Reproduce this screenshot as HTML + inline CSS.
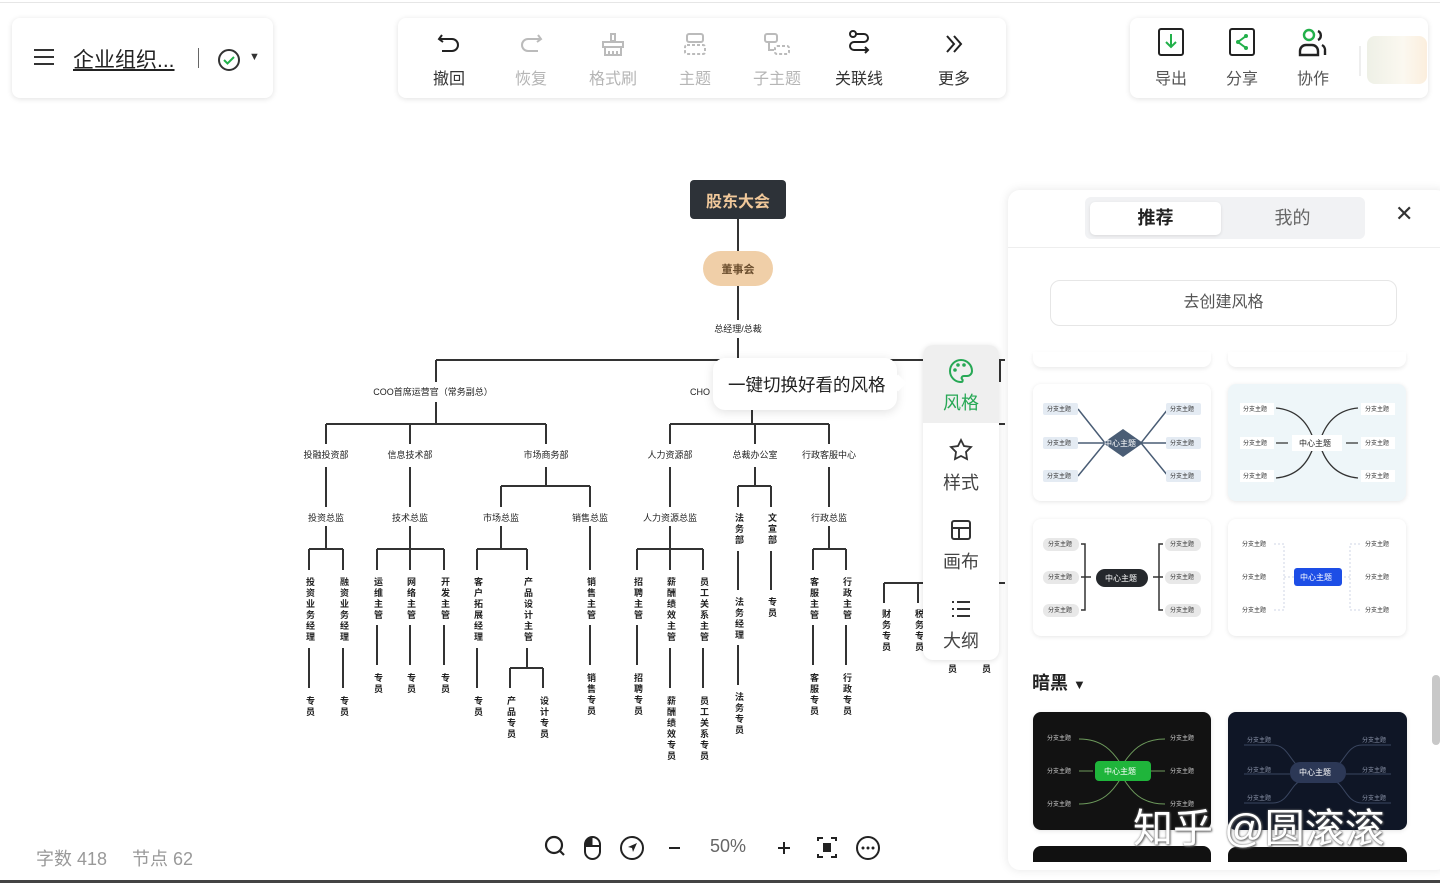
<!DOCTYPE html>
<html><head><meta charset="utf-8"><style>
*{margin:0;padding:0;box-sizing:border-box}
body{width:1440px;height:883px;position:relative;overflow:hidden;background:#fff;font-family:"Liberation Sans","Noto Sans CJK SC",sans-serif;color:#333}
.abs{position:absolute}
.card{position:absolute;background:#fff;border-radius:8px;box-shadow:0 1px 6px rgba(0,0,0,.12)}
.h{position:absolute;font-size:9px;transform:translateX(-50%);white-space:nowrap;color:#222;line-height:12px}
.v{position:absolute;font-size:9px;writing-mode:vertical-rl;width:11px;margin-left:-5px;letter-spacing:2px;color:#222;line-height:11px;font-weight:bold}
.tb{position:absolute;text-align:center;font-size:16px;width:70px;transform:translateX(-50%)}
.tb .ic{height:34px;display:flex;align-items:flex-end;justify-content:center}
.tb .lb{margin-top:8px}
.gray{color:#b5b5b5}
.side{position:absolute;left:923px;width:76px;text-align:center;font-size:18px;color:#444}
.thumb{position:absolute;border-radius:8px;box-shadow:0 1px 5px rgba(0,0,0,.1);overflow:hidden}
</style></head><body>
<div class="abs" style="left:0;top:2px;width:1440px;height:1px;background:#e6e6e6"></div>

<!-- left card -->
<div class="card" style="left:12px;top:18px;width:261px;height:80px">
  <div class="abs" style="left:22px;top:31px;width:20px;height:2px;background:#333;box-shadow:0 7px 0 #333,0 14px 0 #333"></div>
  <div class="abs" style="left:61px;top:26px;font-size:21px;color:#222;text-decoration:underline">企业组织...</div>
  <div class="abs" style="left:186px;top:30px;width:1px;height:20px;background:#666"></div>
  <svg class="abs" style="left:205px;top:30px" width="24" height="24"><circle cx="12" cy="12" r="10" fill="none" stroke="#333" stroke-width="2"/><path d="M7 12l3.5 3.5L17 9" fill="none" stroke="#22b04a" stroke-width="2"/></svg>
  <div class="abs" style="left:237px;top:33px;font-size:11px">▼</div>
</div>

<!-- toolbar -->
<div class="card" style="left:398px;top:18px;width:608px;height:80px"></div>
<div class="tb" style="left:449px;top:23px"><div class="ic"><svg width="26" height="26"><path d="M6 4L3 8l4 3M3 8h13a6 6 0 010 12H6" fill="none" stroke="#222" stroke-width="2"/></svg></div><div class="lb">撤回</div></div>
<div class="tb gray" style="left:531px;top:23px"><div class="ic"><svg width="26" height="26"><path d="M20 4l3 4-4 3M23 8H10a6 6 0 000 12h10" fill="none" stroke="#bbb" stroke-width="2"/></svg></div><div class="lb">恢复</div></div>
<div class="tb gray" style="left:613px;top:23px"><div class="ic"><svg width="26" height="26"><path d="M11 3h4v7h-4zM3 11h20v5H3zM5 16v8h16v-8M9 20v4M13 20v4M17 20v4" fill="none" stroke="#bbb" stroke-width="2"/></svg></div><div class="lb">格式刷</div></div>
<div class="tb gray" style="left:695px;top:23px"><div class="ic"><svg width="26" height="26"><rect x="5" y="3" width="16" height="8" rx="2" fill="none" stroke="#bbb" stroke-width="2"/><rect x="3" y="14" width="20" height="9" rx="2" fill="none" stroke="#bbb" stroke-width="2" stroke-dasharray="3 2"/></svg></div><div class="lb">主题</div></div>
<div class="tb gray" style="left:777px;top:23px"><div class="ic"><svg width="30" height="26"><rect x="3" y="3" width="12" height="8" rx="2" fill="none" stroke="#bbb" stroke-width="2"/><path d="M7 11v8h5" fill="none" stroke="#bbb" stroke-width="2"/><rect x="13" y="15" width="14" height="8" rx="2" fill="none" stroke="#bbb" stroke-width="2" stroke-dasharray="3 2"/></svg></div><div class="lb">子主题</div></div>
<div class="tb" style="left:859px;top:23px"><div class="ic"><svg width="26" height="28"><circle cx="7" cy="5" r="3" fill="none" stroke="#222" stroke-width="2"/><path d="M10 5h8a4 4 0 010 8H8a4 4 0 000 8h14M19 18l3 3-3 3" fill="none" stroke="#222" stroke-width="2"/></svg></div><div class="lb">关联线</div></div>
<div class="tb" style="left:954px;top:23px"><div class="ic"><svg width="26" height="26"><path d="M6 5l7 8-7 8M13 5l7 8-7 8" fill="none" stroke="#222" stroke-width="2"/></svg></div><div class="lb">更多</div></div>

<!-- right card -->
<div class="card" style="left:1130px;top:18px;width:298px;height:80px"></div>
<div class="tb" style="left:1171px;top:23px"><div class="ic"><svg width="28" height="30"><rect x="2" y="2" width="24" height="26" rx="2" fill="none" stroke="#222" stroke-width="2"/><path d="M14 7v13M9 15l5 5 5-5" fill="none" stroke="#22b04a" stroke-width="2"/></svg></div><div class="lb" style="color:#555">导出</div></div>
<div class="tb" style="left:1242px;top:23px"><div class="ic"><svg width="28" height="30"><rect x="2" y="2" width="24" height="26" rx="2" fill="none" stroke="#222" stroke-width="2"/><path d="M18 9l-8 6 8 6" fill="none" stroke="#22b04a" stroke-width="2"/><circle cx="18" cy="9" r="2" fill="#22b04a"/><circle cx="18" cy="21" r="2" fill="#22b04a"/><circle cx="10" cy="15" r="2" fill="#22b04a"/></svg></div><div class="lb" style="color:#555">分享</div></div>
<div class="tb" style="left:1313px;top:23px"><div class="ic"><svg width="32" height="30"><circle cx="12" cy="8" r="5" fill="none" stroke="#22b04a" stroke-width="2.4"/><path d="M3 28v-4a6 6 0 016-6h6a6 6 0 016 6v4z" fill="none" stroke="#222" stroke-width="2.4"/><path d="M21 4a5 5 0 010 9M25 18a6 6 0 013 6v4" fill="none" stroke="#222" stroke-width="2.4"/></svg></div><div class="lb" style="color:#555">协作</div></div>
<div class="abs" style="left:1359px;top:46px;width:2px;height:30px;background:#eee"></div>
<div class="abs" style="left:1367px;top:36px;width:60px;height:48px;border-radius:8px;background:linear-gradient(90deg,#eef0e6,#fbf8f0 60%,#fbeedd)"></div>

<!-- chart lines -->
<svg class="abs" style="left:0;top:0" width="1440" height="883">
<path fill="none" stroke="#333" stroke-width="2" d="M738 219V251 M738 286V320 M738 338V360 M436 360H1005 M436 360V382 M752 360V382
M436 402V424 M326 424H546 M326 424V444 M410 424V444 M546 424V444
M326 467V507 M326 526V549 M309 549H343 M309 549V570 M343 549V570 M309 648V688 M343 648V688
M410 467V507 M410 526V549 M377 549H444 M377 549V570 M410 549V570 M444 549V570 M377 625V665 M410 625V665 M444 625V665
M546 467V486 M501 486H590 M501 486V507 M590 486V507 M501 526V549 M477 549H527 M477 549V570 M527 549V570 M477 648V688 M527 648V668 M510 668H543 M510 668V688 M543 668V688 M590 526V570 M590 625V665
M752 402V424 M670 424H829 M670 424V444 M755 424V444 M829 424V444
M670 467V507 M670 526V549 M637 549H703 M637 549V570 M670 549V570 M703 549V570 M637 625V665 M670 648V688 M703 648V688
M755 467V486 M738 486H771 M738 486V507 M771 486V507 M738 551V590 M771 551V590 M738 645V685
M829 467V507 M829 526V549 M813 549H846 M813 549V570 M846 549V570 M813 625V665 M846 625V665
M1000 360V382 M884 583H1005 M884 583V603 M918 583V603 M990 424H1005"/>
<rect x="690" y="180" width="96" height="39" rx="4" fill="#2d3238"/>
<rect x="703" y="251" width="70" height="35" rx="17.5" fill="#f0cfa8"/>
</svg>
<div class="abs" style="left:690px;top:188px;width:96px;text-align:center;color:#f0c89a;font-weight:bold;font-size:16px">股东大会</div>
<div class="abs" style="left:703px;top:261px;width:70px;text-align:center;color:#6b4e2e;font-size:11px;font-weight:bold">董事会</div>
<div class="h" style="left:738px;top:323px">总经理/总裁</div>
<div class="h" style="left:433px;top:386px">COO首席运营官（常务副总）</div>
<div class="h" style="left:700px;top:386px">CHO</div>

<div class="h" style="left:326px;top:449px">投融投资部</div>
<div class="h" style="left:410px;top:449px">信息技术部</div>
<div class="h" style="left:546px;top:449px">市场商务部</div>
<div class="h" style="left:670px;top:449px">人力资源部</div>
<div class="h" style="left:755px;top:449px">总裁办公室</div>
<div class="h" style="left:829px;top:449px">行政客服中心</div>
<div class="h" style="left:326px;top:512px">投资总监</div>
<div class="h" style="left:410px;top:512px">技术总监</div>
<div class="h" style="left:501px;top:512px">市场总监</div>
<div class="h" style="left:590px;top:512px">销售总监</div>
<div class="h" style="left:670px;top:512px">人力资源总监</div>
<div class="h" style="left:829px;top:512px">行政总监</div>

<div class="v" style="left:309px;top:577px">投资业务经理</div>
<div class="v" style="left:343px;top:577px">融资业务经理</div>
<div class="v" style="left:309px;top:696px">专员</div>
<div class="v" style="left:343px;top:696px">专员</div>
<div class="v" style="left:377px;top:577px">运维主管</div>
<div class="v" style="left:410px;top:577px">网络主管</div>
<div class="v" style="left:444px;top:577px">开发主管</div>
<div class="v" style="left:377px;top:673px">专员</div>
<div class="v" style="left:410px;top:673px">专员</div>
<div class="v" style="left:444px;top:673px">专员</div>
<div class="v" style="left:477px;top:577px">客户拓展经理</div>
<div class="v" style="left:477px;top:696px">专员</div>
<div class="v" style="left:527px;top:577px">产品设计主管</div>
<div class="v" style="left:510px;top:696px">产品专员</div>
<div class="v" style="left:543px;top:696px">设计专员</div>
<div class="v" style="left:590px;top:577px">销售主管</div>
<div class="v" style="left:590px;top:673px">销售专员</div>
<div class="v" style="left:637px;top:577px">招聘主管</div>
<div class="v" style="left:637px;top:673px">招聘专员</div>
<div class="v" style="left:670px;top:577px">薪酬绩效主管</div>
<div class="v" style="left:670px;top:696px">薪酬绩效专员</div>
<div class="v" style="left:703px;top:577px">员工关系主管</div>
<div class="v" style="left:703px;top:696px">员工关系专员</div>
<div class="v" style="left:738px;top:513px">法务部</div>
<div class="v" style="left:771px;top:513px">文宣部</div>
<div class="v" style="left:738px;top:597px">法务经理</div>
<div class="v" style="left:738px;top:692px">法务专员</div>
<div class="v" style="left:771px;top:597px">专员</div>
<div class="v" style="left:813px;top:577px">客服主管</div>
<div class="v" style="left:846px;top:577px">行政主管</div>
<div class="v" style="left:813px;top:673px">客服专员</div>
<div class="v" style="left:846px;top:673px">行政专员</div>
<div class="v" style="left:885px;top:609px">财务专员</div>
<div class="v" style="left:918px;top:609px">税务专员</div>
<div class="v" style="left:951px;top:664px">员</div>
<div class="v" style="left:985px;top:664px">员</div>

<!-- tooltip -->
<div class="card" style="left:713px;top:358px;width:184px;height:52px;border-radius:12px;box-shadow:0 2px 10px rgba(0,0,0,.12)"></div>
<div class="abs" style="left:892px;top:377px;width:12px;height:12px;background:#fff;transform:rotate(45deg)"></div>
<div class="abs" style="left:728px;top:372px;font-size:17.5px;color:#222;white-space:nowrap">一键切换好看的风格</div>

<!-- side toolbar -->
<div class="card" style="left:923px;top:345px;width:76px;height:315px;border-radius:10px;overflow:hidden"><div style="height:78px;background:#efefef"></div></div>
<svg class="abs" style="left:948px;top:358px" width="26" height="26"><path d="M13 2a11 11 0 100 22c2 0 2-2 1-3s0-3 2-3h3a5 5 0 005-5c0-6-5-11-11-11z" fill="none" stroke="#27a855" stroke-width="2"/><circle cx="7" cy="12" r="1.8" fill="#27a855"/><circle cx="10" cy="7" r="1.8" fill="#27a855"/><circle cx="16" cy="7" r="1.8" fill="#27a855"/></svg>
<div class="side" style="top:389px;color:#27a855">风格</div>
<svg class="abs" style="left:949px;top:438px" width="24" height="24"><path d="M12 2l3 6 7 1-5 5 1 7-6-3-6 3 1-7-5-5 7-1z" fill="none" stroke="#333" stroke-width="1.8"/></svg>
<div class="side" style="top:469px">样式</div>
<svg class="abs" style="left:950px;top:519px" width="22" height="22"><rect x="2" y="2" width="18" height="18" rx="2" fill="none" stroke="#333" stroke-width="2"/><path d="M2 9h18M9 9v11" stroke="#333" stroke-width="2"/></svg>
<div class="side" style="top:548px">画布</div>
<svg class="abs" style="left:950px;top:599px" width="22" height="20"><path d="M2 3h2M7 3h13M2 10h2M7 10h13M2 17h2M7 17h13" stroke="#333" stroke-width="2"/></svg>
<div class="side" style="top:627px">大纲</div>

<!-- right panel -->
<div class="card" style="left:1008px;top:190px;width:440px;height:680px;border-radius:12px;box-shadow:0 0 10px rgba(0,0,0,.1)"></div>
<div class="abs" style="left:1085px;top:197px;width:280px;height:42px;border-radius:6px;background:#f1f2f4"></div>
<div class="abs" style="left:1090px;top:202px;width:131px;height:33px;border-radius:5px;background:#fff;box-shadow:0 1px 3px rgba(0,0,0,.1);text-align:center;font-size:18px;font-weight:bold;line-height:33px;color:#222">推荐</div>
<div class="abs" style="left:1225px;top:202px;width:135px;text-align:center;font-size:18px;line-height:33px;color:#666">我的</div>
<div class="abs" style="left:1395px;top:201px;font-size:22px;color:#333">✕</div>
<div class="abs" style="left:1008px;top:247px;width:432px;height:1px;background:#eee"></div>
<div class="abs" style="left:1050px;top:280px;width:347px;height:46px;border:1px solid #e6e6e6;border-radius:10px;text-align:center;line-height:44px;font-size:16px;color:#555">去创建风格</div>
<div class="abs" style="left:1033px;top:352px;width:178px;height:15px;border-radius:0 0 8px 8px;box-shadow:0 2px 4px rgba(0,0,0,.08)"></div>
<div class="abs" style="left:1228px;top:352px;width:178px;height:15px;border-radius:0 0 8px 8px;box-shadow:0 2px 4px rgba(0,0,0,.08)"></div>

<!-- thumb 1 -->
<div class="thumb" style="left:1033px;top:384px;width:178px;height:117px;background:#fff">
<svg width="178" height="117" font-size="6" font-family="Liberation Sans,Noto Sans CJK SC,sans-serif">
<path d="M45 25L72 59L45 92M45 59H135M135 25L108 59L135 92" stroke="#4a5d75" stroke-width="1.5" fill="none"/>
<g fill="#e4ebf3"><rect x="10" y="19" width="35" height="12" rx="2"/><rect x="10" y="53" width="35" height="12" rx="2"/><rect x="10" y="86" width="35" height="12" rx="2"/><rect x="133" y="19" width="35" height="12" rx="2"/><rect x="133" y="53" width="35" height="12" rx="2"/><rect x="133" y="86" width="35" height="12" rx="2"/></g>
<path d="M90 45L110 59L90 73L70 59Z" fill="#4a5d75"/>
<g fill="#333"><text x="14" y="27">分支主题</text><text x="14" y="61">分支主题</text><text x="14" y="94">分支主题</text><text x="137" y="27">分支主题</text><text x="137" y="61">分支主题</text><text x="137" y="94">分支主题</text></g>
<text x="71" y="62" fill="#fff" font-size="8">中心主题</text></svg></div>
<!-- thumb 2 -->
<div class="thumb" style="left:1228px;top:384px;width:178px;height:117px;background:#eef6f9">
<svg width="178" height="117" font-size="6" font-family="Liberation Sans,Noto Sans CJK SC,sans-serif">
<path d="M48 24C70 26 80 40 85 54M48 94C70 92 80 78 85 64M48 59H60M130 24C108 26 98 40 93 54M130 94C108 92 98 78 93 64M118 59H130" stroke="#333" stroke-width="1.3" fill="none"/>
<g fill="#fff"><rect x="12" y="19" width="34" height="12"/><rect x="12" y="53" width="34" height="12"/><rect x="12" y="86" width="34" height="12"/><rect x="133" y="19" width="34" height="12"/><rect x="133" y="53" width="34" height="12"/><rect x="133" y="86" width="34" height="12"/><rect x="64" y="51" width="50" height="16"/></g>
<g fill="#333"><text x="15" y="27">分支主题</text><text x="15" y="61">分支主题</text><text x="15" y="94">分支主题</text><text x="137" y="27">分支主题</text><text x="137" y="61">分支主题</text><text x="137" y="94">分支主题</text></g>
<text x="71" y="62" fill="#222" font-size="8">中心主题</text></svg></div>
<!-- thumb 3 -->
<div class="thumb" style="left:1033px;top:519px;width:178px;height:117px;background:#fff">
<svg width="178" height="117" font-size="6" font-family="Liberation Sans,Noto Sans CJK SC,sans-serif">
<path d="M48 25h4v66h-4M48 58h10M130 25h-4v66h4M130 58h-10" stroke="#333" stroke-width="1.5" fill="none"/>
<g fill="#e8e8e8"><rect x="10" y="19" width="36" height="13" rx="6"/><rect x="10" y="52" width="36" height="13" rx="6"/><rect x="10" y="85" width="36" height="13" rx="6"/><rect x="132" y="19" width="36" height="13" rx="6"/><rect x="132" y="52" width="36" height="13" rx="6"/><rect x="132" y="85" width="36" height="13" rx="6"/></g>
<rect x="63" y="50" width="52" height="18" rx="9" fill="#25282c"/>
<g fill="#333"><text x="15" y="27">分支主题</text><text x="15" y="60">分支主题</text><text x="15" y="93">分支主题</text><text x="137" y="27">分支主题</text><text x="137" y="60">分支主题</text><text x="137" y="93">分支主题</text></g>
<text x="72" y="62" fill="#fff" font-size="8">中心主题</text></svg></div>
<!-- thumb 4 -->
<div class="thumb" style="left:1228px;top:519px;width:178px;height:117px;background:#fff">
<svg width="178" height="117" font-size="6" font-family="Liberation Sans,Noto Sans CJK SC,sans-serif">
<path d="M46 25h10v66h-10M56 58h10M132 25h-10v66h10M112 58h10" stroke="#cfd6e6" stroke-width="1" stroke-dasharray="2 2" fill="none"/>
<rect x="66" y="49" width="48" height="18" rx="3" fill="#1d4ee6"/>
<g fill="#333"><text x="14" y="27">分支主题</text><text x="14" y="60">分支主题</text><text x="14" y="93">分支主题</text><text x="137" y="27">分支主题</text><text x="137" y="60">分支主题</text><text x="137" y="93">分支主题</text></g>
<text x="72" y="61" fill="#fff" font-size="8">中心主题</text></svg></div>

<div class="abs" style="left:1032px;top:669px;font-size:18px;font-weight:bold;color:#222">暗黑 <span style="font-size:13px">▼</span></div>
<!-- dark thumbs -->
<div class="thumb" style="left:1033px;top:712px;width:178px;height:118px;background:#121212">
<svg width="178" height="118" font-size="6" font-family="Liberation Sans,Noto Sans CJK SC,sans-serif">
<path d="M46 27C70 27 80 40 88 52M46 92C70 92 80 79 88 66M46 59H60M132 27C108 27 98 40 90 52M132 92C108 92 98 79 90 66M118 59H132" stroke="#6d9a5c" stroke-width="1" fill="none"/>
<rect x="62" y="49" width="56" height="20" rx="4" fill="#1fb53b"/>
<g fill="#ccc"><text x="14" y="28">分支主题</text><text x="14" y="61">分支主题</text><text x="14" y="94">分支主题</text><text x="137" y="28">分支主题</text><text x="137" y="61">分支主题</text><text x="137" y="94">分支主题</text></g>
<text x="71" y="62" fill="#fff" font-size="8">中心主题</text></svg></div>
<div class="thumb" style="left:1228px;top:712px;width:179px;height:118px;background:#0f1626">
<svg width="179" height="118" font-size="6" font-family="Liberation Sans,Noto Sans CJK SC,sans-serif">
<path d="M16 33H45C60 33 62 50 72 55M16 62H62M16 91H45C60 91 62 74 72 69M163 33H134C119 33 117 50 107 55M163 62H118M163 91H134C119 91 117 74 107 69" stroke="#3a4660" stroke-width="1" fill="none"/>
<rect x="62" y="50" width="56" height="21" rx="10" fill="#2c3856"/>
<g fill="#8a93a8"><text x="19" y="30">分支主题</text><text x="19" y="60">分支主题</text><text x="19" y="88">分支主题</text><text x="134" y="30">分支主题</text><text x="134" y="60">分支主题</text><text x="134" y="88">分支主题</text></g>
<text x="71" y="63" fill="#fff" font-size="8">中心主题</text></svg></div>
<div class="abs" style="left:1033px;top:846px;width:178px;height:16px;background:#111;border-radius:8px 8px 0 0"></div>
<div class="abs" style="left:1228px;top:847px;width:179px;height:15px;background:#111;border-radius:8px 8px 0 0"></div>
<div class="abs" style="left:1432px;top:675px;width:8px;height:70px;background:#c8c8c8;border-radius:4px"></div>

<div class="abs" style="left:1133px;top:796px;font-size:40px;color:#fff;text-shadow:0 0 2px #777,1px 1px 2px #555;white-space:nowrap">知乎 @圆滚滚</div>

<!-- bottom -->
<div class="abs" style="left:36px;top:845px;font-size:18px;color:#999;white-space:nowrap">字数 418</div>
<div class="abs" style="left:132px;top:845px;font-size:18px;color:#999;white-space:nowrap">节点 62</div>
<svg class="abs" style="left:540px;top:832px" width="350" height="32">
<circle cx="14" cy="13" r="8" fill="none" stroke="#222" stroke-width="2.2"/><path d="M20 19l4 4" stroke="#222" stroke-width="2.2"/>
<rect x="45" y="5" width="15" height="22" rx="7.5" fill="none" stroke="#222" stroke-width="2"/><path d="M52.5 5a7.5 7.5 0 00-7.5 7.5V14h7.5z" fill="#222"/><path d="M45 14h15" stroke="#222" stroke-width="2"/>
<circle cx="92" cy="16" r="11" fill="none" stroke="#222" stroke-width="2"/><path d="M97 11l-9 4 4 1 1 4z" fill="#222"/>
<path d="M129 16h11" stroke="#222" stroke-width="2"/>
<path d="M238 16h12M244 10v12" stroke="#222" stroke-width="2"/>
<path d="M278 9V6h5M291 6h5v3M296 22v3h-5M283 25h-5v-3" fill="none" stroke="#222" stroke-width="2"/><rect x="283" y="11" width="8" height="9" fill="#222"/>
<circle cx="328" cy="16" r="11" fill="none" stroke="#222" stroke-width="2"/><circle cx="323" cy="16" r="1.5" fill="#222"/><circle cx="328" cy="16" r="1.5" fill="#222"/><circle cx="333" cy="16" r="1.5" fill="#222"/>
</svg>
<div class="abs" style="left:710px;top:836px;font-size:18px;color:#666">50%</div>
<div class="abs" style="left:0;top:880px;width:1440px;height:3px;background:#444"></div>
</body></html>
